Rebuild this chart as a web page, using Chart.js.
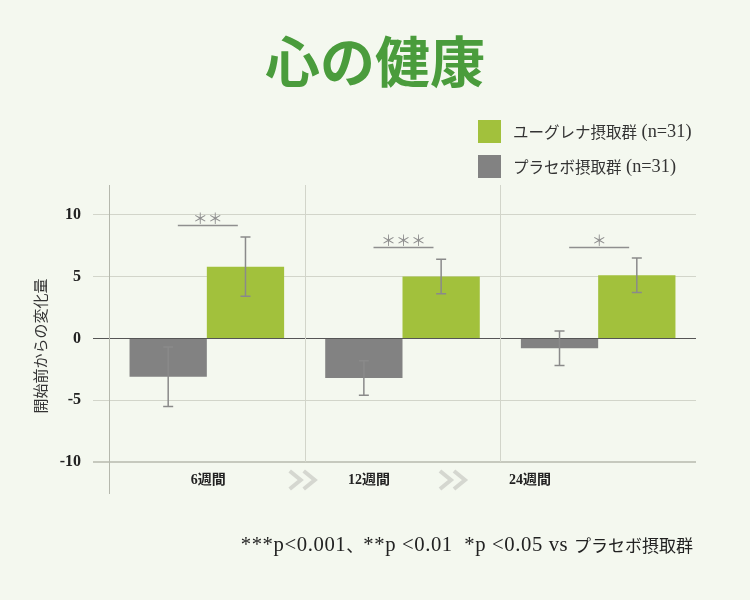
<!DOCTYPE html>
<html>
<head>
<meta charset="utf-8">
<script src="https://cdn.jsdelivr.net/npm/chart.js@4.4.1/dist/chart.umd.min.js"></script>
<style>
  html, body { margin: 0; padding: 0; background: #f4f8ef; }
  #wrap { width: 750px; height: 600px; }
</style>
</head>
<body>
<div id="wrap"><canvas id="healthChart" width="750" height="600"></canvas></div>
<script>
const chartTitle = '心の健康';
const yTitle = '開始前からの変化量';
const categories = ['6週間', '12週間', '24週間'];
const placebo = [-3.1, -3.2, -0.8];
const placeboErr = [2.4, 1.4, 1.4];
const euglena = [5.8, 5.0, 5.1];
const euglenaErr = [2.4, 1.4, 1.4];
const sigMarks = ['＊＊', '＊＊＊', '＊'];
const sigLevels = [9.2, 7.4, 7.4];
const yTicks = [-10, -5, 0, 5, 10];
const footnote = '***p<0.001、**p <0.01  *p <0.05 vs プラセボ摂取群';

const FONT = "'Liberation Serif', 'Noto Sans CJK JP', serif";
const CJK = /[\u3000-\u30ff\u4e00-\u9fff]/;

// split text into latin / cjk runs so latin can be drawn a bit larger
function runs(text) {
  const out = [];
  for (const ch of text) {
    const isCjk = CJK.test(ch);
    if (out.length && out[out.length - 1].cjk === isCjk) out[out.length - 1].t += ch;
    else out.push({ t: ch, cjk: isCjk });
  }
  return out;
}

function mixedText(c, text, x, y, size, align, latinScale, spacing) {
  const parts = runs(text);
  const fontOf = p => p.cjk ? size + "px 'Noto Sans CJK JP'" : (size * latinScale).toFixed(1) + "px 'Liberation Serif'";
  const spOf = p => p.cjk ? '0px' : spacing + 'px';
  let total = 0;
  parts.forEach(p => {
    c.font = fontOf(p); c.letterSpacing = spOf(p);
    p.w = c.measureText(p.t).width; total += p.w;
  });
  let cx = align === 'right' ? x - total : x;
  c.textAlign = 'left';
  parts.forEach(p => {
    c.font = fontOf(p); c.letterSpacing = spOf(p);
    c.fillText(p.t, cx, y); cx += p.w;
  });
  c.letterSpacing = '0px';
}

// background, titles, separators, error bars, brackets, x labels, legend, footnote
const extras = {
  id: 'extras',
  beforeDraw(chart) {
    const c = chart.ctx;
    c.save();
    c.fillStyle = '#f4f8ef';
    c.fillRect(0, 0, chart.width, chart.height);
    c.restore();
  },
  afterDatasetsDraw(chart) {
    const c = chart.ctx;
    const x = chart.scales.x;
    const y = chart.scales.y;
    const area = chart.chartArea;
    const yBottom = y.getPixelForValue(-10);

    c.save();
    // main title
    c.fillStyle = '#4a9c3c';
    c.font = "bold 55px 'Noto Sans CJK JP'";
    c.textAlign = 'center';
    c.textBaseline = 'middle';
    c.fillText(chartTitle, chart.width / 2, area.top - 124);

    // y axis title
    c.save();
    c.translate(40, (area.top + area.bottom) / 2 + 7);
    c.rotate(-Math.PI / 2);
    c.fillStyle = '#333';
    c.font = "15px 'Noto Sans CJK JP'";
    c.fillText(yTitle, 0, 0);
    c.restore();

    // vertical separators between periods
    c.strokeStyle = '#d2d5ca';
    c.lineWidth = 1;
    for (let i = 0; i < categories.length - 1; i++) {
      const bx = Math.round((x.getPixelForValue(i) + x.getPixelForValue(i + 1)) / 2) + 0.5;
      c.beginPath();
      c.moveTo(bx, area.top);
      c.lineTo(bx, yBottom);
      c.stroke();
    }

    // error bars
    const errs = [placeboErr, euglenaErr];
    c.strokeStyle = '#8a8a8a';
    c.lineWidth = 1.5;
    chart.data.datasets.forEach((ds, di) => {
      const meta = chart.getDatasetMeta(di);
      meta.data.forEach((bar, i) => {
        const v = ds.data[i];
        const top = y.getPixelForValue(v + errs[di][i]);
        const bot = y.getPixelForValue(v - errs[di][i]);
        c.beginPath();
        c.moveTo(bar.x, top); c.lineTo(bar.x, bot);
        c.moveTo(bar.x - 5, top); c.lineTo(bar.x + 5, top);
        c.moveTo(bar.x - 5, bot); c.lineTo(bar.x + 5, bot);
        c.stroke();
      });
    });

    // significance brackets
    c.fillStyle = '#8f8f8f';
    c.font = "15px 'Noto Sans CJK JP', sans-serif";
    c.textAlign = 'center';
    c.textBaseline = 'alphabetic';
    categories.forEach((cat, i) => {
      const cx = x.getPixelForValue(i) + 1;
      const ly = Math.round(y.getPixelForValue(sigLevels[i])) + 0.5;
      c.strokeStyle = '#8f8f8f';
      c.lineWidth = 1.5;
      c.beginPath();
      c.moveTo(cx - 30, ly); c.lineTo(cx + 30, ly);
      c.stroke();
      c.fillText(sigMarks[i], cx, ly - 2);
    });

    // period labels and chevrons
    const w = area.right - area.left;
    const labelY = yBottom + 18;
    c.fillStyle = '#222';
    c.font = 'bold 14px ' + FONT;
    c.textBaseline = 'middle';
    categories.forEach((cat, i) => {
      c.fillText(cat, area.left + w * (0.169 + 0.274 * i), labelY);
    });
    c.strokeStyle = '#d5d7d0';
    c.lineWidth = 4;
    c.lineJoin = 'miter';
    [0.330, 0.586].forEach(f => {
      const cx = area.left + w * f;
      [-7, 7].forEach(dx => {
        c.beginPath();
        c.moveTo(cx + dx - 6, labelY - 9);
        c.lineTo(cx + dx + 5, labelY);
        c.lineTo(cx + dx - 6, labelY + 9);
        c.stroke();
      });
    });

    // legend
    const items = [chart.data.datasets[1], chart.data.datasets[0]];
    const lx = area.right - 218;
    items.forEach((ds, i) => {
      const cy = area.top - 54 + i * 35;
      c.fillStyle = ds.backgroundColor;
      c.fillRect(lx, cy - 11, 23, 23);
      c.fillStyle = '#333';
      mixedText(c, ds.label, lx + 35, cy + 1, 15.5, 'left', 1.18, 0);
    });

    // footnote
    c.fillStyle = '#222';
    mixedText(c, footnote, area.right - 3, area.bottom + 53, 17, 'right', 1.22, 0.6);
    c.restore();
  }
};

new Chart(document.getElementById('healthChart'), {
  type: 'bar',
  data: {
    labels: categories,
    datasets: [
      {
        label: 'プラセボ摂取群 (n=31)',
        data: placebo,
        backgroundColor: '#828282',
        categoryPercentage: 0.79,
        barPercentage: 1.0,
      },
      {
        label: 'ユーグレナ摂取群 (n=31)',
        data: euglena,
        backgroundColor: '#a2c13c',
        categoryPercentage: 0.79,
        barPercentage: 1.0,
      }
    ]
  },
  options: {
    responsive: false,
    animation: false,
    layout: { padding: { left: 30, right: 54, top: 185, bottom: 107 } },
    scales: {
      x: {
        display: false,
      },
      y: {
        min: -12.5,
        max: 12.4,
        afterBuildTicks: (axis) => { axis.ticks = yTicks.map(v => ({ value: v })); },
        afterFit: (axis) => { axis.width = 79; },
        ticks: {
          padding: 12,
          color: '#222',
          font: { family: FONT, size: 16, weight: 'bold' },
        },
        grid: {
          tickLength: 16,
          color: (ctx) => ctx.tick && ctx.tick.value === 0 ? '#555555' : (ctx.tick && ctx.tick.value === -10 ? '#c6c9be' : '#d2d5ca'),
          lineWidth: (ctx) => ctx.tick && ctx.tick.value === -10 ? 2 : 1,
        },
        border: { display: true, color: '#b5b8ad', width: 1 },
      }
    },
    plugins: {
      legend: { display: false },
      tooltip: { enabled: false },
    }
  },
  plugins: [extras]
});
</script>
</body>
</html>
